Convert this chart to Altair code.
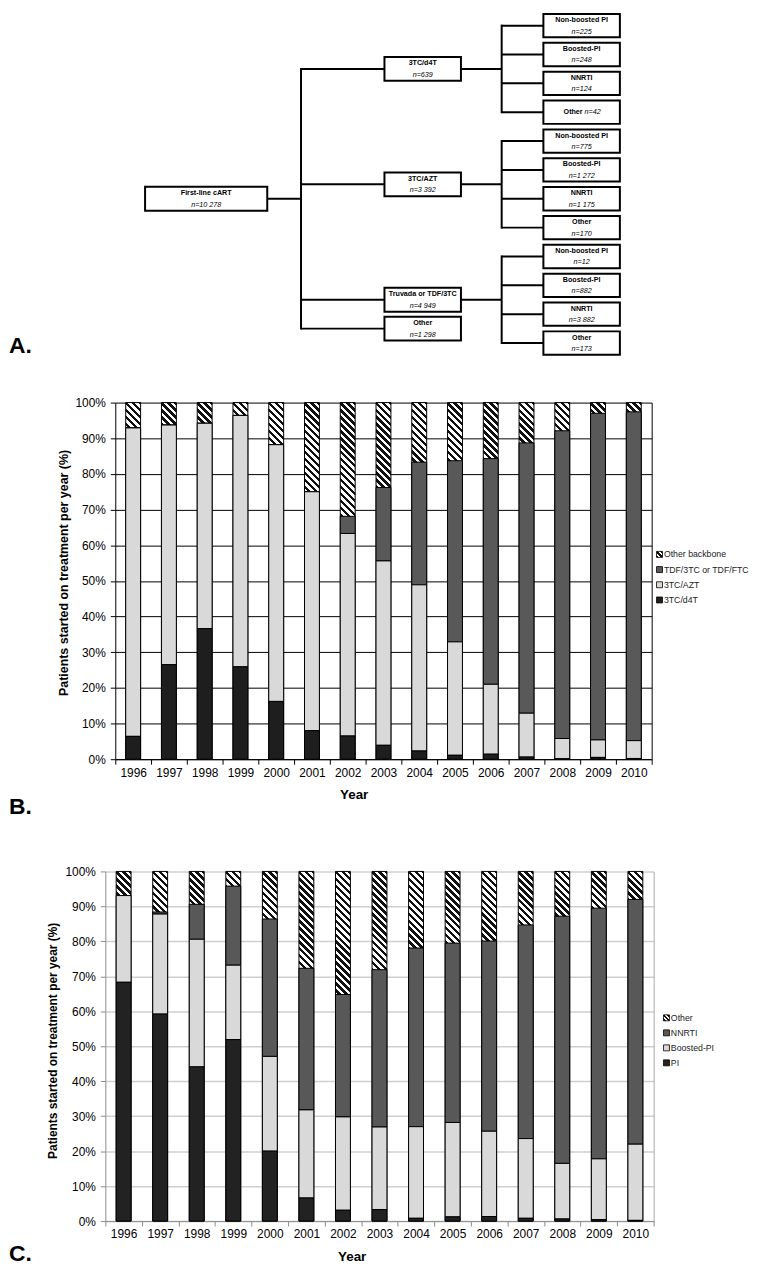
import altair as alt
import pandas as pd

FONT = "Liberation Sans, Arial, sans-serif"
NARROW = "Liberation Sans Narrow, Arial Narrow, Liberation Sans, sans-serif"

# ---------------- data ----------------
years = [str(y) for y in range(1996, 2011)]

# Panel B: backbone
b_categories = ["Other backbone", "TDF/3TC or TDF/FTC", "3TC/AZT", "3TC/d4T"]
b_other = [7.1, 6.3, 5.8, 3.6, 11.8, 25.0, 31.9, 23.8, 16.7, 16.3, 15.7, 11.3, 7.9, 3.0, 2.6]
b_tdf = [0, 0, 0, 0, 0, 0, 4.8, 20.6, 34.4, 50.8, 63.3, 75.8, 86.3, 91.6, 92.2]
b_azt = [86.5, 67.2, 57.6, 70.5, 72.0, 67.0, 56.8, 51.7, 46.6, 31.8, 19.6, 12.3, 5.7, 4.9, 5.0]
b_d4t = [6.4, 26.5, 36.6, 25.9, 16.2, 8.0, 6.5, 3.9, 2.3, 1.1, 1.4, 0.6, 0.1, 0.5, 0.2]

# Panel C: third agent
c_categories = ["Other", "NNRTI", "Boosted-PI", "PI"]
c_other = [6.9, 11.6, 9.4, 4.2, 13.6, 27.7, 35.2, 28.1, 21.9, 20.5, 19.9, 15.3, 12.8, 10.5, 8.0]
c_nnrti = [0, 0.6, 10.0, 22.6, 39.3, 40.5, 35.0, 45.0, 51.1, 51.3, 54.4, 61.1, 70.7, 71.7, 70.0]
c_bpi = [24.8, 28.6, 36.5, 21.3, 27.1, 25.2, 26.7, 23.6, 26.2, 27.0, 24.4, 22.8, 15.9, 17.4, 21.8]
c_pi = [68.3, 59.2, 44.1, 51.9, 20.0, 6.6, 3.1, 3.3, 0.8, 1.2, 1.3, 0.8, 0.6, 0.4, 0.2]

# Panel A: tree
root_label = "First-line cART"
root_n = 10278
backbones = ["3TC/d4T", "3TC/AZT", "Truvada or TDF/3TC", "Other"]
backbone_n = [639, 3392, 4949, 1298]
third_agents = ["Non-boosted PI", "Boosted-PI", "NNRTI", "Other"]
third_n = [[225, 248, 124, 42], [775, 1272, 1175, 170], [12, 882, 3882, 173], []]
inline_leaves = [(0, 3)]


def fmt_n(v):
    return "n=" + f"{v:,}".replace(",", " ")


# ---------------- panel A: tree layout ----------------
ORIGIN_X = 115          # page x of the shared left edge of the panels
OX, OY = ORIGIN_X, 4
ROOT_X = (145, 268)
L1_X = (386, 463)
L2_X = (546, 623)
TRUNK_X, BRANCH_X = 302, 504
SLOT0, SLOT = 16.5, 29.05
BOX_H, LEAF_H = 24.0, 23.5
A_W, A_H = 520, 348

boxes, lines = [], []
texts = {"bc": [], "ic": [], "br": [], "il": []}


def add_box(x0, x1, yc, h, t1, t2, inline=False):
    boxes.append(dict(x=x0 - OX, x2=x1 - OX, y=yc - h / 2 - OY, y2=yc + h / 2 - OY))
    cx = (x0 + x1) / 2 - OX
    cy = yc - OY
    if inline:
        texts["br"].append(dict(x=cx + 1, y=cy, t=t1))
        texts["il"].append(dict(x=cx + 3, y=cy, t=t2))
    else:
        texts["bc"].append(dict(x=cx, y=cy - 5.5, t=t1))
        texts["ic"].append(dict(x=cx, y=cy + 6, t=t2))


def add_line(x0, y0, x1, y1):
    lines.append(dict(x=x0 - OX, x2=x1 - OX, y=y0 - OY, y2=y1 - OY))


slot = 0
l1_centers = []
for i, name in enumerate(backbones):
    kids = third_n[i]
    if kids:
        kc = [SLOT0 + SLOT * (slot + j) for j in range(len(kids))]
        slot += len(kids)
        yc = sum(kc) / len(kc)
        add_line(L1_X[1], yc, BRANCH_X, yc)
        add_line(BRANCH_X, kc[0] - 1, BRANCH_X, kc[-1] + 1)
        for j, v in enumerate(kids):
            add_line(BRANCH_X, kc[j], L2_X[0], kc[j])
            add_box(L2_X[0], L2_X[1], kc[j], LEAF_H, third_agents[j], fmt_n(v),
                    inline=(i, j) in inline_leaves)
    else:
        yc = l1_centers[-1] + SLOT
    l1_centers.append(yc)
    add_line(TRUNK_X, yc, L1_X[0], yc)
    add_box(L1_X[0], L1_X[1], yc, BOX_H, name, fmt_n(backbone_n[i]))

root_y = (l1_centers[0] + l1_centers[-1]) / 2
add_line(TRUNK_X, l1_centers[0] - 1, TRUNK_X, l1_centers[-1] + 1)
add_line(ROOT_X[1], root_y, TRUNK_X, root_y)
add_box(ROOT_X[0], ROOT_X[1], root_y, BOX_H, root_label, fmt_n(root_n))

ax = alt.Scale(domain=[0, A_W], nice=False, zero=False)
ay = alt.Scale(domain=[A_H, 0], nice=False, zero=False)


def enc(c):
    return c.encode(x=alt.X("x:Q", scale=ax, axis=None), y=alt.Y("y:Q", scale=ay, axis=None))


line_layer = alt.Chart(pd.DataFrame(lines)).mark_rule(color="black", strokeWidth=2).encode(
    x=alt.X("x:Q", scale=ax, axis=None), x2="x2:Q",
    y=alt.Y("y:Q", scale=ay, axis=None), y2="y2:Q")
box_layer = alt.Chart(pd.DataFrame(boxes)).mark_rect(
    fill="white", stroke="black", strokeWidth=2
).encode(x=alt.X("x:Q", scale=ax, axis=None), x2="x2:Q",
         y=alt.Y("y:Q", scale=ay, axis=None), y2="y2:Q")

text_layers = []
for key, weight, style, align in [("bc", "bold", "normal", "center"), ("ic", "normal", "italic", "center"),
                                  ("br", "bold", "normal", "right"), ("il", "normal", "italic", "left")]:
    if texts[key]:
        text_layers.append(enc(alt.Chart(pd.DataFrame(texts[key])).mark_text(
            font=NARROW, fontSize=7.2, fontWeight=weight, fontStyle=style, align=align,
            baseline="middle", color="black")).encode(text="t:N"))

a_label = alt.Chart(pd.DataFrame({"t": ["A."]})).mark_text(
    font=FONT, fontSize=23, fontWeight="bold", align="left", baseline="alphabetic", color="black"
).encode(x=alt.value(8 - ORIGIN_X), y=alt.value(342), text="t:N")

chart_a = alt.layer(line_layer, box_layer, *text_layers, a_label).properties(
    width=A_W, height=A_H, view=alt.ViewBackground(stroke="transparent"))


# ---------------- stacked bar panels ----------------
def hatch_gradient(w, h, period=7.0):
    r = w / h
    b = (w + h) / (h * (1 + r * r))
    a = r * b
    u = period / (w + h)
    stops = []
    k = 0
    while k * u < 1:
        s0 = k * u
        s1 = min((k + 0.5) * u, 1.0)
        s2 = min((k + 1) * u, 1.0)
        stops += [{"offset": s0, "color": "#111111"}, {"offset": s1, "color": "#111111"},
                  {"offset": s1, "color": "#ffffff"}, {"offset": s2, "color": "#ffffff"}]
        k += 1
    return {"gradient": "linear", "x1": 0, "y1": 1, "x2": a, "y2": 1 - b, "stops": stops}


LEGEND_GRAD = ("{gradient: 'linear', x1: 0, y1: 1, x2: 1, y2: 0, stops: ["
               "{offset: 0, color: '#111'}, {offset: 0.22, color: '#111'}, {offset: 0.22, color: '#fff'},"
               "{offset: 0.4, color: '#fff'}, {offset: 0.4, color: '#111'}, {offset: 0.6, color: '#111'},"
               "{offset: 0.6, color: '#fff'}, {offset: 0.78, color: '#fff'}, {offset: 0.78, color: '#111'},"
               "{offset: 1, color: '#111'}]}")


def stacked_panel(cats, series, colors, plot_left, plot_right, H, bar_w, axis_col, grid_col,
                  grid_w, border, ytitle_x, ytitle_y, ytitle_size, xtitle_x, xtitle_y,
                  leg_x, leg_y, leg_pad, letter, letter_y, spacer_y=None):
    rows = []
    n = len(cats)
    for i, yr in enumerate(years):
        for k, c in enumerate(cats):
            rows.append({"year": yr, "cat": c, "val": series[k][i], "ord": n - 1 - k})
    df = pd.DataFrame(rows)

    W = plot_right - ORIGIN_X
    shift = plot_left - ORIGIN_X  # <= 0 when the plot starts left of the shared edge
    xscale = alt.Scale(paddingInner=0, paddingOuter=0, range=[shift, W]) if shift else \
        alt.Scale(paddingInner=0, paddingOuter=0)

    xs = alt.X("year:N", scale=xscale,
               axis=alt.Axis(title="Year", labelAngle=0, tickBand="extent", labelFont=FONT,
                             labelFontSize=12, labelColor="black", labelPadding=3, tickSize=5,
                             tickColor=axis_col, domainColor=axis_col, grid=False,
                             titleFont=FONT, titleFontSize=13.5, titleFontWeight="bold",
                             titleColor="black", titleX=xtitle_x, titleY=xtitle_y,
                             titleBaseline="middle", titleAlign="center"))
    ysc = alt.Scale(domain=[0, 100], nice=False)
    yax = alt.Axis(values=list(range(0, 101, 10)), labelExpr="datum.value + '%'",
                   title="Patients started on treatment per year (%)", titleFont=FONT,
                   titleFontSize=ytitle_size, titleFontWeight="bold", titleColor="black",
                   titleAngle=270, titleX=ytitle_x, titleY=ytitle_y, titleBaseline="middle",
                   titleAlign="center", labelFont=FONT, labelFontSize=12, labelColor="black",
                   labelPadding=5, tickSize=5, tickColor=axis_col, domainColor=axis_col,
                   grid=True, gridColor=grid_col, gridWidth=grid_w, gridOpacity=1, offset=-shift)
    yax_right = alt.Axis(orient="right", labels=False, ticks=False, grid=False, domain=True,
                         domainColor=border, domainWidth=1, title=None)

    bg = alt.Chart(df).mark_bar(
        width=bar_w, fill=hatch_gradient(bar_w, H), stroke="black", strokeWidth=1
    ).encode(x=xs, y=alt.Y("sum(val):Q", scale=ysc, axis=yax))

    fg = alt.Chart(df).transform_filter(alt.datum.cat != cats[0]).mark_bar(
        width=bar_w, stroke="black", strokeWidth=1
    ).encode(
        x=xs,
        y=alt.Y("val:Q", stack="zero", scale=ysc, axis=yax_right),
        color=alt.Color("cat:N",
                        scale=alt.Scale(domain=cats, range=[alt.ExprRef(expr=LEGEND_GRAD)] + colors),
                        legend=alt.Legend(title=None, orient="none", legendX=leg_x, legendY=leg_y,
                                          symbolType="square", symbolSize=36,
                                          symbolStrokeColor="black", symbolStrokeWidth=0.8,
                                          labelFont=FONT, labelFontSize=8.8, labelColor="#222222",
                                          rowPadding=leg_pad, padding=0, labelOffset=0)),
        order=alt.Order("ord:Q"),
    )

    layers = [bg, fg]
    lab = alt.Chart(pd.DataFrame({"t": [letter]})).mark_text(
        font=FONT, fontSize=23, fontWeight="bold", align="left", baseline="alphabetic", color="black"
    ).encode(x=alt.value(8 - ORIGIN_X), y=alt.value(letter_y), text="t:N")
    layers.append(lab)
    if spacer_y is not None:
        # blank text that only extends the panel's lower bound (spacing before the next panel)
        layers.append(alt.Chart(pd.DataFrame({"t": [" "]})).mark_text(
            font=FONT, fontSize=23, align="left", baseline="alphabetic"
        ).encode(x=alt.value(8 - ORIGIN_X), y=alt.value(spacer_y), text="t:N"))

    return alt.layer(*layers).resolve_axis(y="independent").properties(
        width=W, height=H, view=alt.ViewBackground(stroke="transparent"))


chart_b = stacked_panel(
    b_categories, [b_other, b_tdf, b_azt, b_d4t], ["#595959", "#d9d9d9", "#1e1e1e"],
    plot_left=115, plot_right=655, H=359, bar_w=15, axis_col="black", grid_col="black", grid_w=1,
    border="black", ytitle_x=-52, ytitle_y=171, ytitle_size=12.5, xtitle_x=240, xtitle_y=36,
    leg_x=543.5, leg_y=148.4, leg_pad=4.3, letter="B.", letter_y=414, spacer_y=423)

chart_c = stacked_panel(
    c_categories, [c_other, c_nnrti, c_bpi, c_pi], ["#585858", "#d9d9d9", "#222222"],
    plot_left=105, plot_right=657, H=352, bar_w=15, axis_col="#8c8c8c", grid_col="#cfcfcf",
    grid_w=1.5, border="#a8a8a8", ytitle_x=-53, ytitle_y=170, ytitle_size=12, xtitle_x=238,
    xtitle_y=36, leg_x=550.5, leg_y=143, leg_pad=4.1, letter="C.", letter_y=392)

chart = alt.concat(chart_a, chart_b, chart_c, columns=1, spacing=36, align="none",
                   bounds="full", padding=0).resolve_scale(color="independent").resolve_legend(
    color="independent").configure(font=FONT, padding=0)

chart.save("out.html", embed_options={"renderer": "svg", "actions": False})
